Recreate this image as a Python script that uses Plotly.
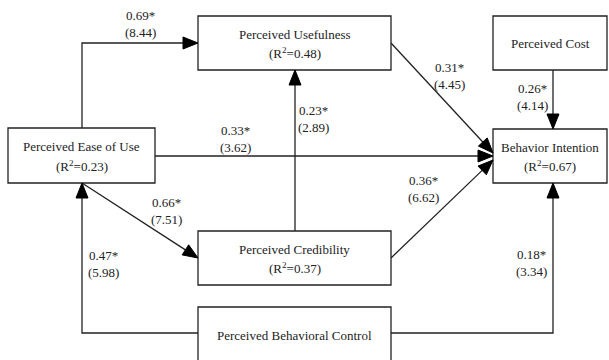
import plotly.graph_objects as go
import math

# ---- data ----
node_names = ["Perceived Usefulness", "Perceived Cost", "Behavior Intention",
              "Perceived Ease of Use", "Perceived Credibility", "Perceived Behavioral Control"]
node_r2 = [0.48, None, 0.67, 0.23, 0.37, None]
path_from = ["Perceived Ease of Use", "Perceived Ease of Use", "Perceived Credibility",
             "Perceived Usefulness", "Perceived Credibility", "Perceived Cost",
             "Perceived Ease of Use", "Perceived Behavioral Control", "Perceived Behavioral Control"]
path_to = ["Perceived Usefulness", "Behavior Intention", "Perceived Usefulness",
           "Behavior Intention", "Behavior Intention", "Behavior Intention",
           "Perceived Credibility", "Perceived Ease of Use", "Behavior Intention"]
path_coef = [0.69, 0.33, 0.23, 0.31, 0.36, 0.26, 0.66, 0.47, 0.18]
path_t = [8.44, 3.62, 2.89, 4.45, 6.62, 4.14, 7.51, 5.98, 3.34]

# ---- layout (pixel positions) ----
boxes = {
    "Perceived Usefulness": (198, 391, 16, 70),
    "Perceived Cost": (493, 607, 16, 70),
    "Behavior Intention": (493, 607, 129, 183),
    "Perceived Ease of Use": (8, 155, 128, 183),
    "Perceived Credibility": (198, 391, 231, 285),
    "Perceived Behavioral Control": (198, 391, 307, 362),
}
routes = [
    [(82, 128), (82, 43), (198, 43)],
    [(155, 156), (493, 156)],
    [(295, 231), (295, 70)],
    [(391, 43), (493, 153)],
    [(391, 258), (493, 160)],
    [(553, 70), (553, 129)],
    [(82, 183), (198, 258)],
    [(198, 333), (82, 333), (82, 183)],
    [(391, 333), (553, 333), (553, 183)],
]
label_pos = [(140, 15), (235, 130), (313, 110), (449, 67), (423, 180),
             (532, 88), (166, 202), (103, 255), (531, 254)]

FONT = dict(family="Times New Roman", size=13, color="#222")
LC = "#222"

fig = go.Figure()
shapes = []
annotations = []

for name, r2 in zip(node_names, node_r2):
    x0, x1, y0, y1 = boxes[name]
    shapes.append(dict(type="rect", x0=x0, x1=x1, y0=y0, y1=y1,
                       line=dict(color=LC, width=1.3), fillcolor="white", layer="above"))
    cx, cy = (x0 + x1) / 2, (y0 + y1) / 2
    if name == "Perceived Behavioral Control":
        cy = 335
    if r2 is None:
        annotations.append(dict(x=cx, y=cy, text=name, showarrow=False, font=FONT))
    else:
        annotations.append(dict(x=cx, y=cy - 9, text=name, showarrow=False, font=FONT))
        annotations.append(dict(x=cx, y=cy + 10, text=f"(R<sup>2</sup>={r2:.2f})",
                                showarrow=False, font=FONT))

for pts, c, t, (lx, ly) in zip(routes, path_coef, path_t, label_pos):
    (xa, ya), (xb, yb) = pts[-2], pts[-1]
    L = math.hypot(xb - xa, yb - ya)
    ux, uy = (xb - xa) / L, (yb - ya) / L
    hl, hw = 15, 6
    bx, by = xb - ux * hl, yb - uy * hl
    line_pts = pts[:-1] + [(bx, by)]
    fig.add_trace(go.Scatter(x=[p[0] for p in line_pts], y=[p[1] for p in line_pts],
                             mode="lines", line=dict(color=LC, width=1.3),
                             hoverinfo="skip", showlegend=False))
    px, py = -uy, ux
    path = (f"M{xb},{yb} L{bx + px * hw},{by + py * hw} "
            f"L{bx - px * hw},{by - py * hw} Z")
    shapes.append(dict(type="path", path=path, fillcolor="black",
                       line=dict(color="black", width=1), layer="above"))
    annotations.append(dict(x=lx, y=ly, text=f"{c:.2f}*", showarrow=False, font=FONT))
    annotations.append(dict(x=lx, y=ly + 17.5, text=f"({t:.2f})", showarrow=False, font=FONT))

fig.update_layout(
    width=609, height=360, margin=dict(l=0, r=0, t=0, b=0),
    plot_bgcolor="white", paper_bgcolor="white",
    xaxis=dict(range=[0, 609], visible=False, fixedrange=True),
    yaxis=dict(range=[360, 0], visible=False, fixedrange=True),
    shapes=shapes, annotations=annotations, showlegend=False,
)
fig.write_html("out.html", config={"displayModeBar": False},
               post_script="document.body.style.margin='0';document.body.style.overflow='hidden';")
